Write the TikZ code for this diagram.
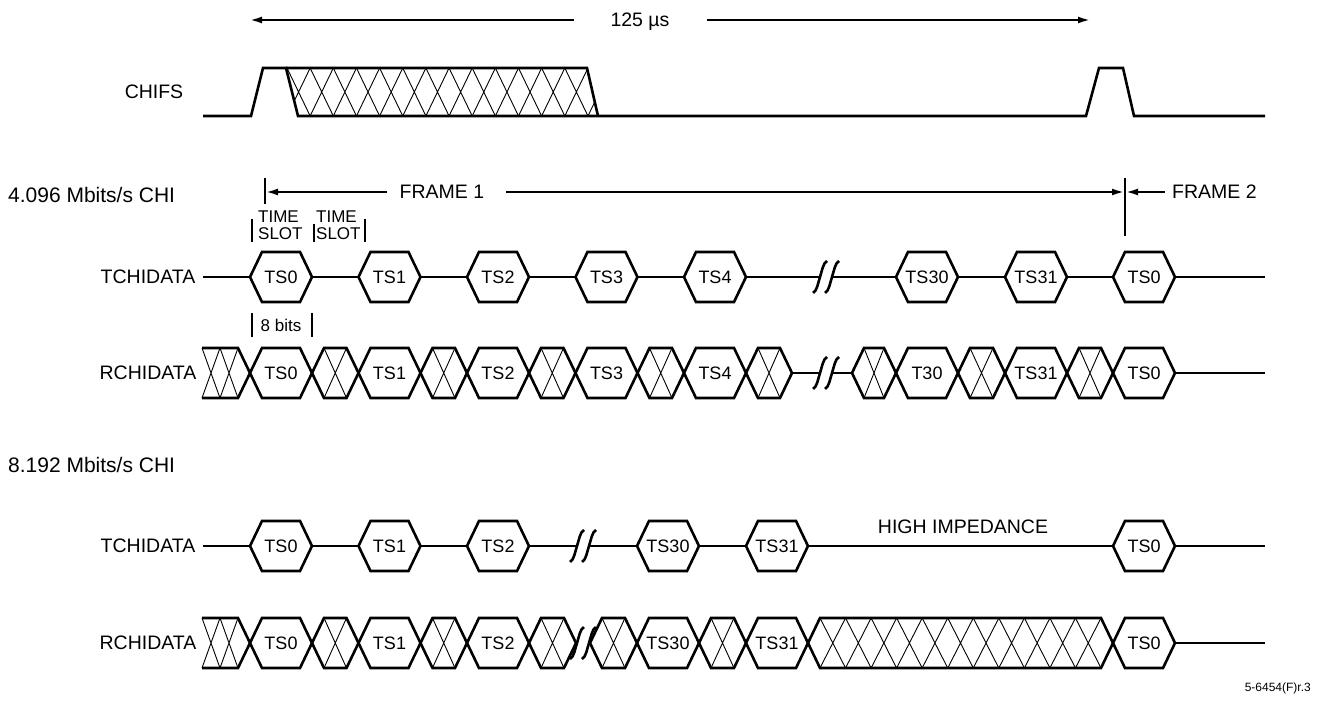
\documentclass[tikz,border=0pt]{standalone}
\usepackage{fontspec}
\setmainfont{Liberation Sans}
\usetikzlibrary{arrows.meta}
\tikzset{
  wave/.style={line width=2.6pt},
  hatchln/.style={line width=0.9pt},
  dimln/.style={line width=2pt},
  barln/.style={line width=2pt},
  tipend/.style={-{Latex[length=12pt,width=7pt]}},
  lab/.style={font=\fontsize{19.5}{22}\selectfont, inner sep=0pt, text depth=0pt},
  rowlab/.style={font=\fontsize{21}{24}\selectfont, inner sep=0pt, text depth=0pt},
  smlab/.style={font=\fontsize{17}{19}\selectfont, inner sep=0pt, text depth=0pt},
  tslab/.style={font=\fontsize{18}{20}\selectfont, inner sep=0pt, text depth=0pt},
}
% data hexagon: name, xl, xr, y, label
\newcommand\tshex[5]{%
  \draw[wave] (#2,#4) -- ({#2+12},{#4-25}) -- ({#3-12},{#4-25}) -- (#3,#4) -- ({#3-12},{#4+25}) -- ({#2+12},{#4+25}) -- cycle;
  \node[tslab] (#1) at ({(#2+#3)/2},#4) {#5};}
% hatched hexagon: xl, xr, y
\newcommand\hhex[3]{%
  \draw[hatchln] ({#1+12},{#3-25}) -- ({#2-12},{#3+25}) ({#2-12},{#3-25}) -- ({#1+12},{#3+25});
  \draw[wave] (#1,#3) -- ({#1+12},{#3-25}) -- ({#2-12},{#3-25}) -- (#2,#3) -- ({#2-12},{#3+25}) -- ({#1+12},{#3+25}) -- cycle;}
% starting hatched block: y
\newcommand\hstart[1]{%
  \draw[hatchln] (202,{#1-25}) -- (220,{#1+25}) (220,{#1-25}) -- (202,{#1+25})
                 (220,{#1-25}) -- (238,{#1+25}) (238,{#1-25}) -- (220,{#1+25});
  \draw[wave] (202,{#1-25}) -- (238,{#1-25}) -- (250,#1) -- (238,{#1+25}) -- (202,{#1+25});}
% long hatched hexagon: xl, xr, y, cells
\newcommand\bighatch[4]{%
  \foreach \i in {1,...,#4} {
    \pgfmathsetmacro\pa{#1+12+(\i-1)*(#2-#1-24)/#4}
    \pgfmathsetmacro\pb{#1+12+\i*(#2-#1-24)/#4}
    \draw[hatchln] (\pa,{#3-25}) -- (\pb,{#3+25}) (\pb,{#3-25}) -- (\pa,{#3+25});
  }
  \draw[wave] (#1,#3) -- ({#1+12},{#3-25}) -- ({#2-12},{#3-25}) -- (#2,#3) -- ({#2-12},{#3+25}) -- ({#1+12},{#3+25}) -- cycle;}
% one break stroke: x, y
\newcommand\sstroke[2]{%
  \draw[wave] ({#1-7},{#2+16}) .. controls ({#1-3},{#2+14}) and ({#1-2},{#2+6}) .. (#1,#2)
     .. controls ({#1+2},{#2-6}) and ({#1+3},{#2-14}) .. ({#1+7},{#2-16});}
\begin{document}
\begin{tikzpicture}[x=1pt,y=-1pt]
\useasboundingbox (0,0) rectangle (1318,704);

% ---------- 125 us ----------
\node[lab] (per) at (640,20) {125 µs};
\coordinate (perl) at (250,20);
\coordinate (perr) at (1090,20);
\draw[dimln,tipend] ([xshift=-36pt]per.west) -- (perl);
\draw[dimln,tipend] ([xshift=37pt]per.east) -- (perr);

% ---------- CHIFS ----------
\node[lab] (chifs) at (154,92) {CHIFS};
\begin{scope}
  \clip (286,68) -- (587,68) -- (598,116) -- (298,116) -- cycle;
  \foreach \i in {-1,...,13} {
    \pgfmathsetmacro\ta{287+\i*23.15}
    \pgfmathsetmacro\tb{287+(\i+1)*23.15}
    \draw[hatchln] (\ta,68) -- (\tb,116) (\tb,68) -- (\ta,116);
  }
\end{scope}
\draw[wave] (203,116) -- (251,116) -- (263,68) -- (286,68) -- (298,116) -- (1086,116)
  -- (1099,68) -- (1123,68) -- (1134,116) -- (1265,116);
\draw[wave] (286,68) -- (587,68) -- (598,116);

% ---------- 4.096 Mbits/s ----------
\node[rowlab,anchor=west] (r4) at (8,195) {4.096 Mbits/s CHI};
\node[lab] (f1) at (442,192) {FRAME 1};
\node[lab,anchor=west] (f2) at (1172,192) {FRAME 2};
\coordinate (t1top) at (265,178); \coordinate (t1bot) at (265,204);
\coordinate (t2top) at (1125,178); \coordinate (t2bot) at (1125,236);
\draw[dimln] (t1top) -- (t1bot);
\draw[dimln] (t2top) -- (t2bot);
\coordinate (f1l) at (266,192); \coordinate (f1r) at (1124,192); \coordinate (f2l) at (1126,192);
\draw[dimln,tipend] ([xshift=-13pt]f1.west) -- (f1l);
\draw[dimln,tipend] ([xshift=22pt]f1.east) -- (f1r);
\draw[dimln,tipend] ([xshift=-7pt]f2.west) -- (f2l);

\node[smlab,anchor=west] (ts1a) at (258,217) {TIME};
\node[smlab,anchor=west] (ts1b) at (258,234) {SLOT};
\node[smlab,anchor=west] (ts2a) at (316,217) {TIME};
\node[smlab,anchor=west] (ts2b) at (316,234) {SLOT};
\draw[barln] (252,219) -- (252,242);
\draw[barln] (314,224) -- (314,242);
\draw[barln] (365,219) -- (365,242);

\node[smlab] (eb) at (281,325) {8 bits};
\draw[barln] (252,313) -- (252,337);
\draw[barln] (312,313) -- (312,337);

% TCHIDATA 1
\node[lab] (tchi1) at (148,277) {TCHIDATA};
\draw[wave] (203,277) -- (250,277);
\tshex{a0}{250}{312}{277}{TS0}
\draw[wave] (312,277) -- (358.5,277);
\tshex{a1}{358.5}{420.5}{277}{TS1}
\draw[wave] (420.5,277) -- (467,277);
\tshex{a2}{467}{529}{277}{TS2}
\draw[wave] (529,277) -- (575.5,277);
\tshex{a3}{575.5}{637.5}{277}{TS3}
\draw[wave] (637.5,277) -- (684,277);
\tshex{a4}{684}{746}{277}{TS4}
\draw[wave] (746,277) -- (820,277);
\sstroke{820}{277}\sstroke{832}{277}
\draw[wave] (832,277) -- (896,277);
\tshex{a30}{896}{958}{277}{TS30}
\draw[wave] (958,277) -- (1005,277);
\tshex{a31}{1005}{1067}{277}{TS31}
\draw[wave] (1067,277) -- (1113,277);
\tshex{a32}{1113}{1175}{277}{TS0}
\draw[wave] (1175,277) -- (1265,277);

% RCHIDATA 1
\node[lab] (rchi1) at (148,373) {RCHIDATA};
\hstart{373}
\tshex{b0}{250}{312}{373}{TS0}
\hhex{312}{358.5}{373}
\tshex{b1}{358.5}{420.5}{373}{TS1}
\hhex{420.5}{467}{373}
\tshex{b2}{467}{529}{373}{TS2}
\hhex{529}{575.5}{373}
\tshex{b3}{575.5}{637.5}{373}{TS3}
\hhex{637.5}{684}{373}
\tshex{b4}{684}{746}{373}{TS4}
\hhex{746}{792}{373}
\draw[wave] (792,373) -- (820,373);
\sstroke{820}{373}\sstroke{832}{373}
\draw[wave] (832,373) -- (852,373);
\hhex{852}{896}{373}
\tshex{b30}{896}{958}{373}{T30}
\hhex{958}{1005}{373}
\tshex{b31}{1005}{1067}{373}{TS31}
\hhex{1067}{1113}{373}
\tshex{b32}{1113}{1175}{373}{TS0}
\draw[wave] (1175,373) -- (1265,373);

% ---------- 8.192 Mbits/s ----------
\node[rowlab,anchor=west] (r8) at (8,465) {8.192 Mbits/s CHI};

% TCHIDATA 2
\node[lab] (tchi2) at (148,546) {TCHIDATA};
\draw[wave] (203,546) -- (250,546);
\tshex{c0}{250}{312}{546}{TS0}
\draw[wave] (312,546) -- (358.5,546);
\tshex{c1}{358.5}{420.5}{546}{TS1}
\draw[wave] (420.5,546) -- (467,546);
\tshex{c2}{467}{529}{546}{TS2}
\draw[wave] (529,546) -- (577,546);
\sstroke{577}{546}\sstroke{589}{546}
\draw[wave] (589,546) -- (637,546);
\tshex{c30}{637}{699}{546}{TS30}
\draw[wave] (699,546) -- (746,546);
\tshex{c31}{746}{808}{546}{TS31}
\draw[wave] (808,546) -- (1113,546);
\tshex{c32}{1113}{1175}{546}{TS0}
\draw[wave] (1175,546) -- (1265,546);
\node[lab] (hi) at (963,527) {HIGH IMPEDANCE};

% RCHIDATA 2
\node[lab] (rchi2) at (148,643) {RCHIDATA};
\hstart{643}
\tshex{d0}{250}{312}{643}{TS0}
\hhex{312}{358.5}{643}
\tshex{d1}{358.5}{420.5}{643}{TS1}
\hhex{420.5}{467}{643}
\tshex{d2}{467}{529}{643}{TS2}
\hhex{529}{576}{643}
\sstroke{577}{643}\sstroke{589}{643}
\hhex{590}{637}{643}
\tshex{d30}{637}{699}{643}{TS30}
\hhex{699}{746}{643}
\tshex{d31}{746}{808}{643}{TS31}
\bighatch{808}{1113}{643}{11}
\tshex{d32}{1113}{1175}{643}{TS0}
\draw[wave] (1175,643) -- (1265,643);

\node[font=\fontsize{12}{14}\selectfont, inner sep=0pt, anchor=east] (fig) at (1311,688) {5-6454(F)r.3};
\end{tikzpicture}
\end{document}
